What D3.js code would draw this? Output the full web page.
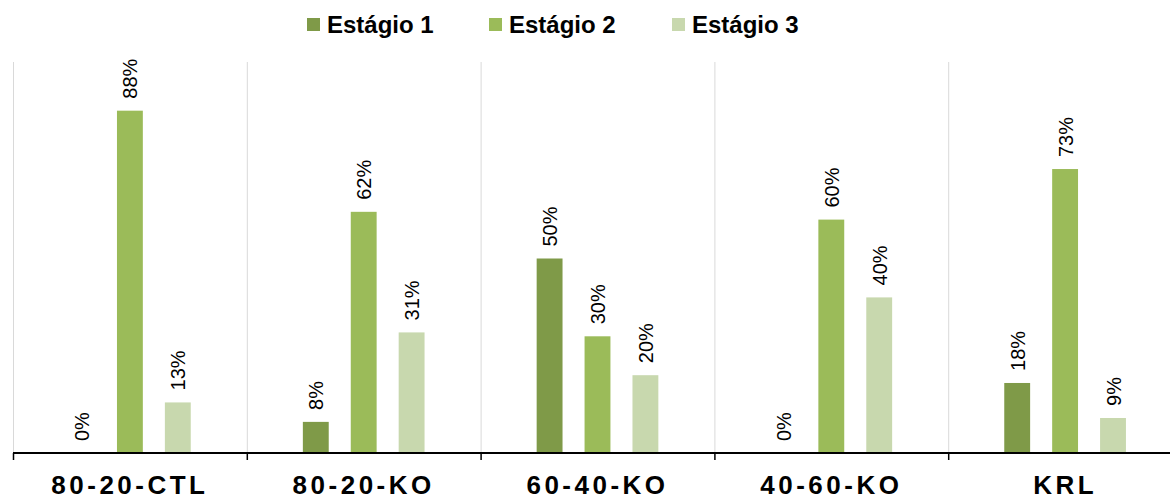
<!DOCTYPE html>
<html>
<head>
<meta charset="utf-8">
<script src="https://cdn.jsdelivr.net/npm/d3@7"></script>
<style>
  html, body { margin: 0; padding: 0; background: #fff; }
  svg { display: block; font-family: Arial, "Liberation Sans", sans-serif; }
</style>
</head>
<body>
<svg id="chart" width="1170" height="500"></svg>
<script>
// Categories and stage shares (%)
const categories = ["80-20-CTL", "80-20-KO", "60-40-KO", "40-60-KO", "KRL"];
const series = ["Estágio 1", "Estágio 2", "Estágio 3"];
const estagio1 = [0, 8, 50, 0, 18];
const estagio2 = [88, 62, 30, 60, 73];
const estagio3 = [13, 31, 20, 40, 9];
const seriesValues = [estagio1, estagio2, estagio3];
const colors = ["#7f9a48", "#9bbb59", "#c8d8ae"];

const svg = d3.select("#chart");

const x0 = d3.scaleBand().domain(categories).range([13, 1182]).padding(0);
const x1 = d3.scaleBand().domain(series).range([0, x0.bandwidth()])
  .paddingInner(0.46).paddingOuter(1.17);
const y = d3.scaleLinear().domain([0, 100]).range([453, 64]);
const color = d3.scaleOrdinal().domain(series).range(colors);

// Vertical separators between categories
const bounds = categories.map(c => x0(c));
svg.append("g").selectAll("line").data(bounds).join("line")
  .attr("x1", d => d + 0.5).attr("x2", d => d + 0.5)
  .attr("y1", 62).attr("y2", y(0))
  .attr("stroke", "#d9d9d9").attr("stroke-width", 1);

// Bars and value labels
const rows = categories.map((c, i) => ({
  cat: c,
  items: series.map((s, j) => ({ s, v: seriesValues[j][i] }))
}));

const groups = svg.append("g").selectAll("g").data(rows).join("g")
  .attr("transform", d => `translate(${x0(d.cat)},0)`);

groups.selectAll("rect").data(d => d.items).join("rect")
  .attr("x", d => x1(d.s))
  .attr("width", x1.bandwidth())
  .attr("y", d => y(d.v))
  .attr("height", d => y(0) - y(d.v))
  .attr("fill", d => color(d.s));

groups.selectAll("text").data(d => d.items).join("text")
  .attr("transform", d => `translate(${x1(d.s) + x1.bandwidth() / 2 + 7.5},${y(d.v) - 12}) rotate(-90)`)
  .attr("text-anchor", "start")
  .attr("font-size", 20)
  .attr("fill", "#000")
  .text(d => d.v + "%");

// Category axis
const axis = svg.append("g").attr("transform", `translate(0,${y(0)})`);
axis.append("line")
  .attr("x1", 13).attr("x2", 1182).attr("y1", 0).attr("y2", 0)
  .attr("stroke", "#000").attr("stroke-width", 2);
axis.selectAll("line.tick").data(bounds).join("line")
  .attr("class", "tick")
  .attr("x1", d => d + 0.5).attr("x2", d => d + 0.5)
  .attr("y1", 0).attr("y2", 7)
  .attr("stroke", "#000").attr("stroke-width", 1.5);

const labelAxis = d3.axisBottom(x0).tickSize(0).tickPadding(0);
const la = svg.append("g").attr("transform", `translate(0,${y(0)})`).call(labelAxis);
la.select(".domain").remove();
la.selectAll("text")
  .attr("y", 41).attr("dy", 0)
  .attr("font-size", 26).attr("font-weight", "bold")
  .attr("font-family", "Arial, 'Liberation Sans', sans-serif")
  .attr("letter-spacing", "3.5px")
  .attr("fill", "#000");

// Legend
const legendX = [307, 489, 672];
const legend = svg.append("g").selectAll("g").data(series).join("g")
  .attr("transform", (d, i) => `translate(${legendX[i]},0)`);
legend.append("rect")
  .attr("x", 0).attr("y", 18).attr("width", 13).attr("height", 13)
  .attr("fill", d => color(d));
legend.append("text")
  .attr("x", 20).attr("y", 33)
  .attr("font-size", 24).attr("font-weight", "bold")
  .attr("fill", "#000")
  .text(d => d);
</script>
</body>
</html>
